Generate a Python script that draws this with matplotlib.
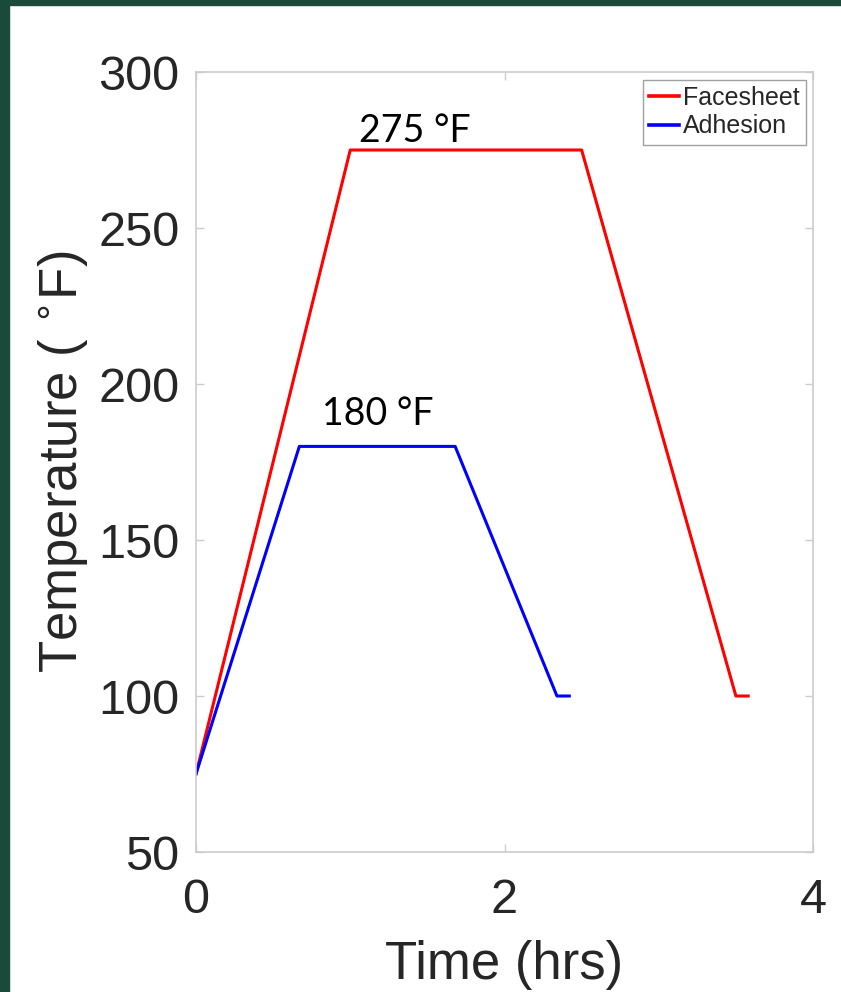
import matplotlib.pyplot as plt
from matplotlib.patches import Rectangle

# cure cycle profiles (time in hrs, temperature in F)
facesheet_time = [0.0, 1.0, 2.5, 3.5, 3.58]
facesheet_temp = [75, 275, 275, 100, 100]
adhesion_time = [0.0, 0.67, 1.68, 2.34, 2.42]
adhesion_temp = [75, 180, 180, 100, 100]

labels = ["Facesheet", "Adhesion"]
annotations = [("275 °F", 1.42, 277.5), ("180 °F", 1.18, 187.0)]

xticks = [0, 2, 4]
yticks = [50, 100, 150, 200, 250, 300]

plt.rcParams["font.family"] = ["Liberation Sans", "DejaVu Sans"]

fig = plt.figure(figsize=(8.41, 9.92), dpi=100)
green = "#1a4a3a"
fig.patches.append(Rectangle((0, 0), 9 / 841, 1, transform=fig.transFigure, color=green, zorder=0))
fig.patches.append(Rectangle((0, 1 - 5 / 992), 1, 5 / 992, transform=fig.transFigure, color=green, zorder=0))

ax = fig.add_axes([196 / 841, 1 - 852 / 992, (813 - 196) / 841, (852 - 72) / 992])
ax.plot(facesheet_time, facesheet_temp, color="#ff0000", linewidth=2.2, label=labels[0])
ax.plot(adhesion_time, adhesion_temp, color="#0000ff", linewidth=2.2, label=labels[1])

for text, x, y in annotations:
    ax.text(x, y, text, ha="center", va="baseline", fontsize=27, family=["Lato", "DejaVu Sans"], color="black")

ax.set_xlim(0, 4)
ax.set_ylim(50, 300)
ax.set_xticks(xticks)
ax.set_yticks(yticks)

for spine in ax.spines.values():
    spine.set_color("#cccccc")
    spine.set_linewidth(1.2)
ax.tick_params(axis="both", direction="in", length=6, width=1.0, color="#cccccc",
               labelsize=35, labelcolor="#262626", top=True, right=True)
ax.tick_params(axis="y", pad=12)
ax.tick_params(axis="x", pad=19)

ax.set_xlabel("Time (hrs)", fontsize=38, color="#262626", labelpad=12)
ax.set_ylabel(r"Temperature ( $^{\circ}$F)", fontsize=38, color="#262626", labelpad=6)

leg = ax.legend(loc="upper right", fontsize=18, handlelength=1.2, handletextpad=0.15,
                borderpad=0.25, labelspacing=0.18, borderaxespad=0.3, fancybox=False,
                edgecolor="#a0a0a0", framealpha=1)
leg.get_frame().set_linewidth(1.0)
for t in leg.get_texts():
    t.set_color("#262626")
for line in leg.get_lines():
    line.set_linewidth(2.6)

fig.savefig("out.png", dpi=100)
